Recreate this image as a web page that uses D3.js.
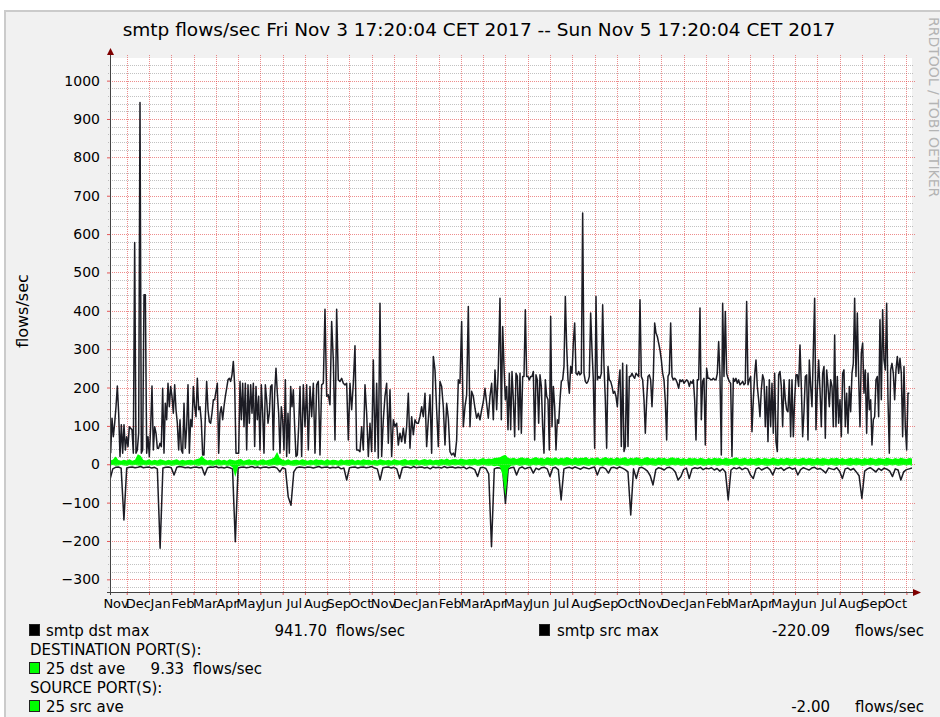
<!DOCTYPE html>
<html>
<head>
<meta charset="utf-8">
<script src="https://cdn.jsdelivr.net/npm/d3@7"></script>
<style>
  body { margin: 0; background: #fff; }
  text { font-family: "DejaVu Sans", sans-serif; fill: #000; }
</style>
</head>
<body>
<div id="chart"></div>
<script>
// ---- data ----
// x unit = months from the left edge of the time axis (Nov .. Oct, three times)
var monthLabels = ["Nov","Dec","Jan","Feb","Mar","Apr","May","Jun","Jul","Aug","Sep","Oct",
                   "Nov","Dec","Jan","Feb","Mar","Apr","May","Jun","Jul","Aug","Sep","Oct",
                   "Nov","Dec","Jan","Feb","Mar","Apr","May","Jun","Jul","Aug","Sep","Oct"];
var yTicks = [-300, -200, -100, 0, 100, 200, 300, 400, 500, 600, 700, 800, 900, 1000];

// smtp dst max, stored in four pieces: [start month, step in months]
var dstStarts = [0.280, 8.853, 17.816, 26.793];
var dstSteps  = [0.05985, 0.07481, 0.05985, 0.05985];
var dstMaxA = [29,120,72,107,150,204,133,20,103,29, 103,37,72,46,98,94,90,29,578,29,
  37,81,943,29,37,442,442,29,72,20, 98,204,37,98,81,42,42,55,46,198,
  29,159,116,211,150,203,177,133,207,142, 107,37,116,37,29,159,42,98,207,29,
  116,98,203,150,124,224,142,150,111,24, 24,124,216,142,111,107,133,168,168,190,
  211,29,133,150,116,150,177,198,220,224, 216,233,268,207,29,29,29,216,116,211,
  98,211,37,207,107,207,133,211,46,203, 116,177,37,207,133,29,207,168,107,133,
  203,207,37,185,250,185,133,29,150,116, 37,220,20,133,29,203,150,194,98,20, 24,98,203];
var dstMaxB = [20,207,98,207,37,203,124,211,29,207, 216,24,207,211,404,177,181,155,372,272,
  63,404,220,216,224,211,207,211,63,211, 142,211,309,37,37,33,98,37,207,133,
  20,107,33,272,33,211,16,420,20,116, 177,211,55,194,20,116,98,107,50,81,
  59,94,55,98,185,42,124,77,116,107, 107,124,150,124,185,46,116,181,29,281,
  246,142,46,216,203,150,50,159,120,33, 24,29,20,63,220,211,372,98,150,181,
  411,98,190,177,146,120,133,116,142,163, 198,159,120,177,211,116,246,142,250,433];
var dstMaxC = [116,359,255,168,203,90,237,90,242,168, 72,237,229,90,237,81,229,229,403,229,
  229,220,229,229,242,63,233,220,107,233, 203,98,29,220,177,168,37,385,98,203,
  150,37,116,107,168,216,220,255,437,307, 220,185,255,237,316,368,237,233,242,233,
  237,655,237,216,211,216,229,394,298,220, 42,437,220,229,224,237,416,255,168,42,
  255,220,216,203,185,190,177,150,211,246, 46,263,33,46,259,46,229,229,237,229,
  224,237,233,229,429,229,220,168,81,168, 229,233,220,150,229,368,342,333,316,298,
  272,237,220,163,63,229,237,368,229,220, 224,220,211,198,220,216,220,211,216,220,
  216,203,216,211,220,168,63,220,220,407];
var dstMaxD = [116,216,224,50,250,224,224,220,220,224, 220,220,237,320,229,24,420,229,398,237,
  224,216,211,20,224,216,224,211,220,207, 211,216,207,211,424,207,220,229,85,168,
  233,272,203,168,124,194,233,220,98,203, 59,220,98,211,81,237,59,33,233,242,
  203,98,220,168,142,137,220,72,220,72, 168,233,233,203,311,203,72,137,229,233,
  63,272,203,150,294,433,90,194,272,194, 98,237,255,68,246,203,150,220,203,98,
  337,98,229,107,168,72,237,246,98,185, 81,203,137,237,263,433,229,394,229,98,
  290,316,185,246,81,237,142,168,50,116, 124,220,229,124,377,168,403,272,246,420,
  168,29,246,263,237,168,246,281,237,276, 237,72,255,98,37,185,185];

// smtp src max, port 25 averages: one value every 1/8 month from 0.25
var fineStart = 0.25, fineStep = 0.125;
var srcMax = [-40,-12,-8,-7,-10,-145,-10,-8,-7,-9, -8,-6,-9,-8,-7,-10,-8,-12,-219,-10,
  -8,-7,-9,-28,-8,-6,-7,-9,-8,-10, -8,-7,-9,-8,-28,-9,-7,-8,-6,-9,
  -8,-10,-7,-9,-12,-202,-10,-8,-7,-9, -8,-6,-9,-7,-10,-8,-7,-9,-8,-7,
  -10,-20,-9,-12,-85,-107,-20,-9,-7,-8, -9,-7,-8,-10,-8,-6,-9,-8,-7,-10,
  -8,-9,-7,-12,-10,-41,-9,-8,-7,-10, -8,-7,-9,-8,-6,-10,-12,-41,-9,-8,
  -7,-10,-8,-12,-37,-9,-7,-8,-10,-6, -9,-8,-7,-10,-8,-12,-7,-9,-8,-10,
  -6,-9,-8,-7,-10,-8,-9,-7,-12,-8, -10,-14,-32,-9,-8,-11,-25,-215,-12,-9,
  -10,-14,-102,-12,-9,-8,-28,-10,-7,-12, -9,-8,-23,-10,-14,-9,-8,-12,-32,-10,
  -8,-14,-93,-12,-9,-8,-11,-7,-10,-13, -8,-10,-12,-9,-7,-28,-10,-8,-12,-23,
  -9,-8,-11,-7,-10,-14,-20,-132,-12,-37, -10,-8,-12,-18,-30,-54,-14,-9,-11,-15,
  -9,-8,-12,-20,-41,-32,-14,-10,-37,-12, -9,-11,-8,-14,-10,-12,-9,-15,-11,-18,
  -12,-20,-93,-15,-9,-12,-8,-14,-10,-12, -28,-37,-12,-9,-15,-11,-8,-14,-28,-10,
  -12,-9,-16,-11,-8,-13,-10,-28,-14,-9, -12,-15,-10,-8,-13,-11,-16,-23,-10,-12,
  -14,-9,-18,-37,-12,-10,-15,-11,-20,-30, -89,-18,-12,-9,-14,-20,-11,-16,-10,-13,
  -18,-32,-12,-15,-41,-20,-14,-12,-10];
var dstAve = [10,12,20,11,9,12,10,13,9,12, 26,22,11,10,13,9,12,10,13,11,
  9,12,10,11,13,9,12,10,11,12, 10,13,15,22,14,10,12,9,11,13,
  10,12,9,13,11,10,12,14,9,11, 13,10,12,9,11,13,10,12,14,18,
  32,16,12,10,13,9,11,12,10,13, 11,9,12,10,13,11,12,9,13,10,
  12,11,9,13,10,12,11,13,9,12, 10,13,11,12,9,12,10,13,11,10,
  12,9,13,11,10,12,14,10,12,11, 13,10,12,14,11,13,10,12,11,14,
  12,15,11,13,14,12,15,13,12,14, 13,15,12,14,16,13,15,14,16,17,
  18,22,25,16,15,17,14,16,18,15, 17,14,16,19,15,17,14,18,16,15,
  18,14,17,15,19,16,14,18,15,17, 16,19,14,17,15,18,14,16,19,15,
  17,14,18,15,16,19,14,17,15,18, 16,14,17,19,15,16,14,18,15,17,
  14,16,18,15,17,14,16,13,17,15, 16,14,17,15,13,16,14,17,15,16,
  13,17,15,14,16,18,14,15,17,13, 16,14,15,17,13,16,15,14,17,15,
  13,16,14,17,15,14,16,13,15,17, 14,16,15,13,17,14,16,15,13,16,
  15,17,14,16,13,15,17,14,16,15, 13,16,14,17,15,13,16,15,14,17,
  15,13,16,14,17,15,14,16,15];
var srcAve = [-3,-2,-4,-3,-2,-3,-4,-2,-3,-2, -3,-4,-2,-3,-2,-3,-2,-4,-3,-2,
  -3,-2,-4,-3,-2,-3,-4,-3,-2,-3, -2,-3,-4,-2,-3,-2,-3,-4,-2,-3,
  -3,-2,-4,-3,-8,-33,-6,-3,-4,-2, -3,-2,-3,-4,-2,-3,-2,-4,-3,-2,
  -3,-2,-4,-3,-2,-3,-4,-3,-2,-3, -4,-2,-3,-2,-4,-3,-2,-3,-4,-2,
  -3,-2,-4,-3,-2,-3,-4,-2,-3,-2, -3,-4,-2,-3,-2,-3,-4,-2,-3,-2,
  -4,-3,-2,-3,-2,-4,-3,-2,-3,-4, -2,-3,-2,-4,-3,-2,-3,-2,-4,-3,
  -2,-3,-4,-2,-3,-2,-3,-4,-2,-3, -3,-2,-4,-3,-2,-3,-4,-3,-5,-4,
  -6,-30,-85,-12,-4,-3,-2,-4,-3,-2, -3,-4,-2,-3,-2,-4,-3,-2,-3,-4,
  -2,-3,-2,-4,-3,-2,-3,-2,-4,-3, -2,-3,-4,-2,-3,-2,-3,-4,-2,-3,
  -3,-2,-4,-3,-2,-3,-4,-2,-3,-2, -3,-4,-2,-3,-2,-3,-4,-2,-3,-2,
  -4,-3,-2,-3,-2,-4,-3,-2,-3,-4, -2,-3,-2,-4,-3,-2,-3,-2,-4,-3,
  -2,-3,-4,-2,-3,-2,-3,-4,-2,-3, -3,-2,-4,-3,-2,-3,-4,-3,-2,-3,
  -4,-2,-3,-2,-4,-3,-2,-3,-4,-2, -3,-2,-4,-3,-2,-3,-4,-2,-3,-2,
  -3,-4,-2,-3,-2,-3,-4,-2,-3,-2, -4,-3,-2,-3,-2,-4,-3,-2,-3,-4,
  -2,-3,-2,-4,-3,-2,-3,-2,-4];

var legendRows = [
  {box: "#000", name: "smtp dst max", value: "941.70", unit: "flows/sec",
   box2: "#000", name2: "smtp src max", value2: "-220.09", unit2: "flows/sec"},
  {header: "DESTINATION PORT(S):"},
  {box: "#00ff00", name: "25 dst ave", value: "9.33", unit: "flows/sec", short: true},
  {header: "SOURCE PORT(S):"},
  {box: "#00ff00", name: "25 src ave", value2: "-2.00", unit2: "flows/sec"}
];

// ---- drawing ----
var svgWidth = 940, svgHeight = 717;
var plot = {left: 110, right: 912, top: 58, bottom: 592};

var svg = d3.select("#chart").append("svg")
  .attr("width", svgWidth)
  .attr("height", svgHeight);

// background + shade
svg.append("rect").attr("x", 4).attr("y", 10).attr("width", svgWidth).attr("height", svgHeight)
  .attr("fill", "#f1f1f1");
svg.append("path").attr("d", "M5,717V11H940").attr("fill", "none")
  .attr("stroke", "#cbcbcb").attr("stroke-width", 2);

svg.append("rect").attr("x", plot.left).attr("y", plot.top)
  .attr("width", plot.right - plot.left).attr("height", plot.bottom - plot.top)
  .attr("fill", "#fff");

var xscale = d3.scaleLinear().domain([0.25, 36.25]).range([plot.left, plot.right]);
var yscale = d3.scaleLinear().domain([-333, 1059]).range([plot.bottom, plot.top]);

var gridColor = "rgba(143,143,143,0.55)";
var mgridColor = "rgba(222,48,48,0.55)";

// minor horizontal grid every 20
var minorY = d3.range(-320, 1060, 20).filter(function(v) { return v % 100 !== 0; });
svg.append("g").selectAll("line").data(minorY).enter().append("line")
  .attr("x1", plot.left - 2).attr("x2", plot.right + 2)
  .attr("y1", d => Math.round(yscale(d)) + 0.5).attr("y2", d => Math.round(yscale(d)) + 0.5)
  .attr("stroke", gridColor).attr("stroke-dasharray", "1,1");

// major grid
svg.append("g").selectAll("line").data(yTicks).enter().append("line")
  .attr("x1", plot.left).attr("x2", plot.right + 3)
  .attr("y1", d => Math.round(yscale(d)) + 0.5).attr("y2", d => Math.round(yscale(d)) + 0.5)
  .attr("stroke", mgridColor).attr("stroke-dasharray", "1,1");

var monthLines = d3.range(1, 37);
svg.append("g").selectAll("line").data(monthLines).enter().append("line")
  .attr("x1", d => Math.round(xscale(d)) + 0.5).attr("x2", d => Math.round(xscale(d)) + 0.5)
  .attr("y1", plot.top - 3).attr("y2", plot.bottom)
  .attr("stroke", mgridColor).attr("stroke-dasharray", "1,1");

// y axis labels + red ticks
var leftAxis = d3.axisLeft(yscale).tickValues(yTicks).tickSize(3).tickPadding(7)
  .tickFormat(d3.format("d"));
var gy = svg.append("g").attr("transform", `translate(${plot.left},0)`).call(leftAxis);
gy.select(".domain").remove();
gy.selectAll(".tick line").attr("stroke", "rgba(222,48,48,0.8)");
gy.selectAll("text").style("font-size", "14px").style("font-family", "DejaVu Sans");

// x axis ticks at month boundaries, labels in the middle of each month
var tickAxis = d3.axisBottom(xscale).tickValues(monthLines).tickSize(3).tickFormat("");
var gx = svg.append("g").attr("transform", `translate(0,${plot.bottom})`).call(tickAxis);
gx.select(".domain").remove();
gx.selectAll(".tick line").attr("stroke", "rgba(222,48,48,0.8)");

var labelAxis = d3.axisBottom(xscale)
  .tickValues(monthLabels.map((m, i) => i + 0.5))
  .tickSize(0).tickPadding(7)
  .tickFormat((d, i) => monthLabels[i]);
var gl = svg.append("g").attr("transform", `translate(0,${plot.bottom})`).call(labelAxis);
gl.select(".domain").remove();
gl.selectAll("text").style("font-size", "13px").style("font-family", "DejaVu Sans");

// series
svg.append("clipPath").attr("id", "clip").append("rect")
  .attr("x", plot.left).attr("y", plot.top)
  .attr("width", plot.right - plot.left).attr("height", plot.bottom - plot.top);

var dstPieces = [dstMaxA, dstMaxB, dstMaxC, dstMaxD];
var dstPoints = [];
dstPieces.forEach(function(vals, k) {
  vals.forEach(function(v, i) { dstPoints.push([dstStarts[k] + i * dstSteps[k], v]); });
});
var srcPoints = srcMax.map((v, i) => [fineStart + i * fineStep, v]);
var dstAvePoints = dstAve.map((v, i) => [fineStart + i * fineStep, v]);
var srcAvePoints = srcAve.map((v, i) => [fineStart + i * fineStep, v]);

var line = d3.line().x(d => xscale(d[0])).y(d => yscale(d[1]));
var area = d3.area().x(d => xscale(d[0])).y0(yscale(0)).y1(d => yscale(d[1]));

var series = svg.append("g").attr("clip-path", "url(#clip)");
series.append("path").datum(dstPoints).attr("d", line)
  .attr("fill", "none").attr("stroke", "#1c1c24").attr("stroke-width", 1.5)
  .attr("stroke-linejoin", "round");
series.append("path").datum(srcPoints).attr("d", line)
  .attr("fill", "none").attr("stroke", "#1c1c24").attr("stroke-width", 1.5)
  .attr("stroke-linejoin", "round");
series.append("path").datum(dstAvePoints).attr("d", area).attr("fill", "#00ff00");
series.append("path").datum(srcAvePoints).attr("d", area).attr("fill", "#00ff00");

// axes lines and arrows
var axisColor = "#444";
svg.append("line").attr("x1", plot.left + 0.5).attr("x2", plot.left + 0.5)
  .attr("y1", plot.bottom + 3).attr("y2", plot.top - 4).attr("stroke", axisColor);
svg.append("line").attr("x1", plot.left - 3).attr("x2", plot.right + 2)
  .attr("y1", plot.bottom + 0.5).attr("y2", plot.bottom + 0.5).attr("stroke", axisColor);
svg.append("path")
  .attr("d", `M${plot.left - 3},${plot.top - 3}L${plot.left + 0.5},${plot.top - 10}L${plot.left + 4},${plot.top - 3}Z`)
  .attr("fill", "#7f0000");
svg.append("path")
  .attr("d", `M${plot.right + 1},${plot.bottom - 3}L${plot.right + 9},${plot.bottom + 0.5}L${plot.right + 1},${plot.bottom + 4}Z`)
  .attr("fill", "#7f0000");

// title, y label, watermark
svg.append("text").attr("x", 479).attr("y", 36).attr("text-anchor", "middle")
  .style("font-size", "18.5px")
  .text("smtp flows/sec Fri Nov 3 17:20:04 CET 2017 -- Sun Nov 5 17:20:04 CET 2017");

svg.append("text").attr("transform", "translate(28,311) rotate(-90)")
  .attr("text-anchor", "middle").style("font-size", "16px").text("flows/sec");

svg.append("text").attr("transform", "translate(929,17) rotate(90)")
  .style("font-size", "14px").style("fill", "#b4b4b4")
  .text("RRDTOOL / TOBI OETIKER");

// legend
var rowY = [636, 655, 674, 693, 712];
var lg = svg.append("g").style("font-size", "15px");
legendRows.forEach(function(r, i) {
  var yb = rowY[i];
  if (r.header) {
    lg.append("text").attr("x", 30).attr("y", yb).text(r.header);
    return;
  }
  lg.append("rect").attr("x", 29.5).attr("y", yb - 11.5).attr("width", 10).attr("height", 11)
    .attr("fill", r.box).attr("stroke", "#222");
  lg.append("text").attr("x", 46).attr("y", yb).text(r.name);
  if (r.value) {
    var vx = r.short ? 184 : 327;
    lg.append("text").attr("x", vx).attr("y", yb).attr("text-anchor", "end").text(r.value);
    lg.append("text").attr("x", vx + 9).attr("y", yb).text(r.unit);
  }
  if (r.name2) {
    lg.append("rect").attr("x", 539.5).attr("y", yb - 11.5).attr("width", 10).attr("height", 11)
      .attr("fill", r.box2).attr("stroke", "#222");
    lg.append("text").attr("x", 557).attr("y", yb).text(r.name2);
  }
  if (r.value2) {
    lg.append("text").attr("x", 830).attr("y", yb).attr("text-anchor", "end").text(r.value2);
    lg.append("text").attr("x", 924).attr("y", yb).attr("text-anchor", "end").text(r.unit2);
  }
});
</script>
</body>
</html>
